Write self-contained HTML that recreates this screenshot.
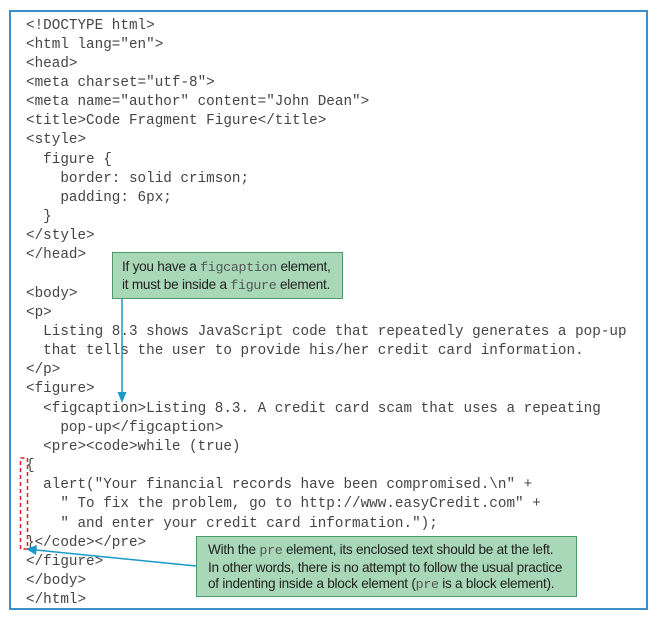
<!DOCTYPE html>
<html><head><meta charset="utf-8"><style>
body{margin:0;width:659px;height:620px;background:#fff;position:relative;overflow:hidden}
.frame{position:absolute;left:9px;top:10px;width:639px;height:600px;border:2px solid #3a8fc8;box-sizing:border-box}
pre{position:absolute;left:26px;top:16.5px;margin:0;font-family:"Liberation Mono",monospace;font-size:14.3px;line-height:19.15px;color:#444}
.c{position:absolute;background:#a8d8b8;border:1.5px solid #4a9a6a;box-sizing:border-box;font-family:"Liberation Sans",sans-serif;font-size:13.6px;line-height:16.5px;color:#222;padding:0 0 0 9px;letter-spacing:-0.25px;white-space:nowrap}
.c code{font-family:"Liberation Mono",monospace;font-size:13.3px;color:#555;letter-spacing:-0.3px}
</style></head><body>
<div class="frame"></div>
<pre>&lt;!DOCTYPE html&gt;
&lt;html lang="en"&gt;
&lt;head&gt;
&lt;meta charset="utf-8"&gt;
&lt;meta name="author" content="John Dean"&gt;
&lt;title&gt;Code Fragment Figure&lt;/title&gt;
&lt;style&gt;
  figure {
    border: solid crimson;
    padding: 6px;
  }
&lt;/style&gt;
&lt;/head&gt;

&lt;body&gt;
&lt;p&gt;
  Listing 8.3 shows JavaScript code that repeatedly generates a pop-up
  that tells the user to provide his/her credit card information.
&lt;/p&gt;
&lt;figure&gt;
  &lt;figcaption&gt;Listing 8.3. A credit card scam that uses a repeating
    pop-up&lt;/figcaption&gt;
  &lt;pre&gt;&lt;code&gt;while (true)
{
  alert("Your financial records have been compromised.\n" +
    " To fix the problem, go to http://www.easyCredit.com" +
    " and enter your credit card information.");
}&lt;/code&gt;&lt;/pre&gt;
&lt;/figure&gt;
&lt;/body&gt;
&lt;/html&gt;</pre>
<div class="c" style="left:112px;top:252px;width:231px;height:47px;padding-top:6px">If you have a <code>figcaption</code> element,<br>it must be inside a <code>figure</code> element.</div>
<div class="c" style="left:196px;top:536px;width:381px;height:61px;padding-top:5px;padding-left:11px">With the <code>pre</code> element, its enclosed text should be at the left.<br>In other words, there is no attempt to follow the usual practice<br>of indenting inside a block element (<code>pre</code> is a block element).</div>
<svg width="659" height="620" style="position:absolute;left:0;top:0">
<rect x="20.5" y="458" width="7" height="91" fill="none" stroke="#e02020" stroke-width="1.5" stroke-dasharray="4,3"/>
<line x1="122" y1="299" x2="122" y2="394" stroke="#1a9ac8" stroke-width="1.5"/>
<polygon points="117.5,392 126.5,392 122,403" fill="#1a9ac8"/>
<line x1="196" y1="566" x2="36" y2="550" stroke="#1a9ac8" stroke-width="1.5"/>
<polygon points="26,549 37,545 36,555" fill="#1a9ac8"/>
</svg>
</body></html>
